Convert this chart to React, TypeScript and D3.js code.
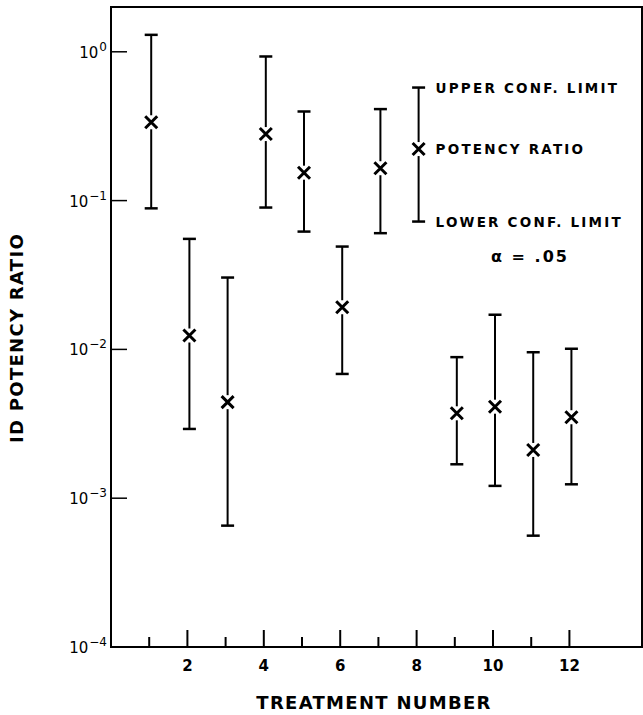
import React from 'react'
import * as d3 from 'd3'

// treatment numbers and read-off values (potency ratio with 95% limits)
const treatments = [1, 2, 3, 4, 5, 6, 7, 8, 9, 10, 11, 12]
const ratio = [0.336, 0.0124, 0.00442, 0.28, 0.154, 0.0192, 0.165, 0.222, 0.00372, 0.00412, 0.00211, 0.0035]
const upper = [1.3, 0.0553, 0.0304, 0.93, 0.397, 0.0491, 0.412, 0.575, 0.00887, 0.0171, 0.00957, 0.0101]
const lower = [0.0887, 0.00292, 0.000654, 0.0898, 0.0619, 0.00684, 0.0604, 0.0723, 0.00169, 0.00121, 0.00056, 0.00124]

const xTicks = [1, 2, 3, 4, 5, 6, 7, 8, 9, 10, 11, 12]
const xTickLabels = ['', '2', '', '4', '', '6', '', '8', '', '10', '', '12']
const yTicks = [1, 0.1, 0.01, 0.001, 0.0001]
const yExponents = ['0', '−1', '−2', '−3', '−4']

const legendLabels = ['UPPER CONF. LIMIT', 'POTENCY RATIO', 'LOWER CONF. LIMIT']
const legendIndex = 7 // the treatment 8 bar carries the labels

const W = 643, H = 715
const left = 111, right = 642, top = 7, bottom = 647
const font = "'DejaVu Sans', sans-serif"

export default function App() {
  const x = d3.scaleLinear().domain([0, 13.9]).range([left, right])
  const y = d3.scaleLog().domain([1e-4, 2]).range([bottom, top])

  const gap = 7, cap = 6.5, mk = 6

  const lx = x(treatments[legendIndex]) + 19

  return (
    <svg width={W} height={H} style={{ position: 'absolute', left: 0, top: 0, background: '#fff' }}>
      {/* frame */}
      <path d={`M${left},${top}H${right}V${bottom}H${left}Z`} fill="none" stroke="#000" strokeWidth={2} />

      {/* x ticks */}
      {xTicks.map((t, i) => {
        const len = t % 2 === 0 ? 17 : 10
        return (
          <g key={'xt' + t}>
            <line x1={x(t)} x2={x(t)} y1={bottom} y2={bottom - len} stroke="#000" strokeWidth={2} />
            {xTickLabels[i] && (
              <text x={x(t)} y={bottom + 24} textAnchor="middle" fontFamily={font} fontWeight="bold" fontSize={15}>
                {xTickLabels[i]}
              </text>
            )}
          </g>
        )
      })}

      {/* y ticks */}
      {yTicks.map((t, i) => (
        <g key={'yt' + i}>
          <line x1={left} x2={left + 16} y1={y(t)} y2={y(t)} stroke="#000" strokeWidth={1.5} />
          <text x={left - 4} y={y(t) + 6} textAnchor="end" fontFamily={font} fontSize={15} fontWeight="500">
            10<tspan dx={1} dy={-7} fontSize={12}>{yExponents[i]}</tspan>
          </text>
        </g>
      ))}

      {/* error bars */}
      {treatments.map((t, i) => {
        const cx = x(t) + 2
        const yu = y(upper[i]), ym = y(ratio[i]), yl = y(lower[i])
        return (
          <g key={'b' + t} stroke="#000">
            <line x1={cx} x2={cx} y1={yu} y2={ym - gap} strokeWidth={2} />
            <line x1={cx} x2={cx} y1={ym + gap} y2={yl} strokeWidth={2} />
            <line x1={cx - cap} x2={cx + cap} y1={yu} y2={yu} strokeWidth={2.5} />
            <line x1={cx - cap} x2={cx + cap} y1={yl} y2={yl} strokeWidth={2.5} />
            <path d={`M${cx - mk},${ym - mk}L${cx + mk},${ym + mk}M${cx - mk},${ym + mk}L${cx + mk},${ym - mk}`} strokeWidth={3} />
          </g>
        )
      })}

      {/* legend labels beside bar 8 */}
      {[upper[legendIndex], ratio[legendIndex], lower[legendIndex]].map((v, i) => (
        <text key={'lg' + i} x={lx} y={y(v) + 5} fontFamily={font} fontWeight="bold" fontSize={13.5} letterSpacing={2.2}>
          {legendLabels[i]}
        </text>
      ))}
      <text x={530} y={262} textAnchor="middle" fontFamily={font} fontWeight="bold" fontSize={16} letterSpacing={2}>
        α = .05
      </text>

      {/* axis titles */}
      <text x={374} y={709} textAnchor="middle" fontFamily={font} fontWeight="bold" fontSize={18} letterSpacing={1.3}>
        TREATMENT NUMBER
      </text>
      <text transform={`translate(23,338) rotate(-90)`} textAnchor="middle" fontFamily={font} fontWeight="bold" fontSize={18} letterSpacing={1.3}>
        ID POTENCY RATIO
      </text>
    </svg>
  )
}
